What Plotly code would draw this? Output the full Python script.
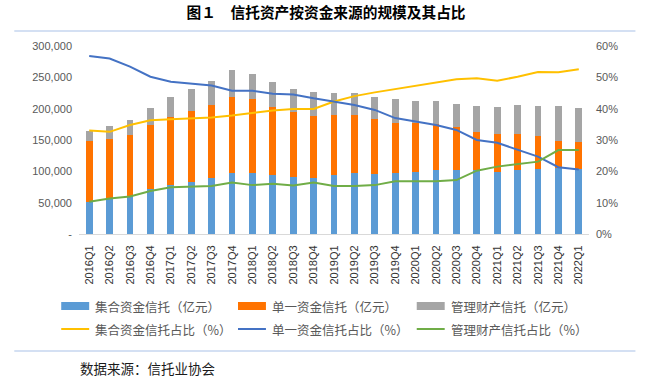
import plotly.graph_objects as go

quarters = ["2016Q1", "2016Q2", "2016Q3", "2016Q4", "2017Q1", "2017Q2", "2017Q3", "2017Q4",
            "2018Q1", "2018Q2", "2018Q3", "2018Q4", "2019Q1", "2019Q2", "2019Q3", "2019Q4",
            "2020Q1", "2020Q2", "2020Q3", "2020Q4", "2021Q1", "2021Q2", "2021Q3", "2021Q4",
            "2022Q1"]

# 亿元
collective = [51600, 56900, 60600, 71800, 78200, 83500, 89900, 97300,
              97300, 93600, 91000, 89900, 93600, 96800, 96300, 97300,
              98900, 102100, 102100, 101600, 98900, 102100, 104300, 105300,
              104300]
single = [96800, 94700, 97900, 102100, 108000, 112200, 116000, 121800,
          117600, 108500, 103100, 98400, 95800, 92600, 87700, 80400,
          77700, 74000, 68600, 60600, 60100, 56900, 51600, 43600,
          42500]
managed = [16500, 20200, 22900, 27700, 32400, 35200, 37700, 42600,
           40400, 39900, 36800, 37800, 35100, 35100, 34100, 38300,
           36200, 35600, 37300, 42600, 43100, 46300, 47800, 55900,
           53700]

# 占比 (%)
collective_pct = [33.0, 32.6, 34.8, 36.3, 36.6, 36.8, 37.2, 37.8,
                  38.7, 39.4, 39.9, 39.9, 42.3, 44.0, 45.2, 46.3,
                  47.3, 48.4, 49.4, 49.7, 48.9, 50.2, 51.7, 51.6,
                  52.6]
single_pct = [56.8, 56.0, 53.4, 50.2, 48.6, 48.1, 47.4, 45.7,
              45.7, 44.8, 44.5, 43.3, 42.2, 41.2, 39.6, 37.0,
              35.9, 34.8, 33.2, 30.0, 29.1, 27.0, 24.7, 21.3,
              20.6]
managed_pct = [10.3, 11.3, 12.0, 13.7, 14.9, 15.0, 15.3, 16.4,
               15.6, 16.0, 15.5, 16.4, 15.3, 15.3, 15.6, 16.8,
               16.8, 16.8, 17.2, 20.2, 21.5, 22.4, 23.1, 26.8,
               26.8]

left_ticks = [0, 50000, 100000, 150000, 200000, 250000, 300000]
left_ticktext = ["-", "50,000", "100,000", "150,000", "200,000", "250,000", "300,000"]

title_text = "图１\u3000信托资产按资金来源的规模及其占比"
source_text = "数据来源：信托业协会"

bar_names = ["集合资金信托（亿元）", "单一资金信托（亿元）", "管理财产信托（亿元）"]
line_names = ["集合资金信托占比（%）", "单一资金信托占比（%）", "管理财产信托占比（%）"]

C_BLUE = "#5B9BD5"
C_ORANGE = "#FF7300"
C_GRAY = "#A5A5A5"
C_YELLOW = "#FFC000"
C_LBLUE = "#4472C4"
C_GREEN = "#70AD47"

W, H = 651, 380
L, R = 78.8, 589.5
T, B = 46, 234


def px2x(px):
    return (px - L) / (R - L)


def px2y(py):
    return (B - py) / (B - T)


fig = go.Figure()
for name, vals, col in zip(bar_names, [collective, single, managed], [C_BLUE, C_ORANGE, C_GRAY]):
    fig.add_trace(go.Bar(x=quarters, y=vals, name=name, marker=dict(color=col, line=dict(width=0)),
                         showlegend=False))

for name, vals, col in zip(line_names, [collective_pct, single_pct, managed_pct], [C_YELLOW, C_LBLUE, C_GREEN]):
    fig.add_trace(go.Scatter(x=quarters, y=[v / 100 for v in vals], name=name, mode="lines",
                             line=dict(color=col, width=2), yaxis="y2", showlegend=False))

tick_font = dict(family="Liberation Sans, Arial, sans-serif", size=11, color="#595959")

fig.update_layout(
    width=W, height=H,
    paper_bgcolor="white", plot_bgcolor="white",
    margin=dict(l=L, r=W - R, t=T, b=H - B, pad=0),
    barmode="stack", bargap=0.66,
    showlegend=False,
    title=dict(text=title_text, x=326 / W, y=1 - 13 / H, xanchor="center", yanchor="middle",
               font=dict(family="Noto Sans CJK SC", size=14.7, color="#000000", weight="bold")),
    xaxis=dict(type="category", tickangle=-90, showgrid=False, showline=True, linecolor="#D9D9D9",
               linewidth=1, ticks="", ticklabelstandoff=6,
               tickfont=dict(family="Liberation Sans, Arial, sans-serif", size=11, color="#333333")),
    yaxis=dict(range=[0, 300000], tickvals=left_ticks, ticktext=left_ticktext, showgrid=False,
               zeroline=False, showline=False, ticks="", ticklabelstandoff=6, tickfont=tick_font),
    yaxis2=dict(range=[0, 0.6], overlaying="y", side="right", tickformat=".0%", dtick=0.1,
                showgrid=False, zeroline=False, showline=False, ticks="", ticklabelstandoff=6,
                tickfont=tick_font),
)

# separator lines
for py in (31, 351):
    fig.add_shape(type="line", xref="paper", yref="paper", x0=px2x(14), x1=px2x(636),
                  y0=px2y(py), y1=px2y(py), line=dict(color="#C6D6EF", width=1.5))

# manual legend
col_x = [61, 238, 417]
row_y = [306, 329]
leg_font = dict(family="Noto Sans CJK SC", size=12.5, color="#595959")
for i, (name, col) in enumerate(zip(bar_names, [C_BLUE, C_ORANGE, C_GRAY])):
    x0 = col_x[i]
    fig.add_shape(type="rect", xref="paper", yref="paper", x0=px2x(x0), x1=px2x(x0 + 28),
                  y0=px2y(row_y[0] + 4), y1=px2y(row_y[0] - 4), fillcolor=col, line=dict(width=0))
    fig.add_annotation(text=name, xref="paper", yref="paper", x=px2x(x0 + 32), y=px2y(row_y[0]),
                       xanchor="left", yanchor="middle", showarrow=False, font=leg_font)
for i, (name, col) in enumerate(zip(line_names, [C_YELLOW, C_LBLUE, C_GREEN])):
    x0 = col_x[i]
    fig.add_shape(type="line", xref="paper", yref="paper", x0=px2x(x0), x1=px2x(x0 + 28),
                  y0=px2y(row_y[1]), y1=px2y(row_y[1]), line=dict(color=col, width=2))
    fig.add_annotation(text=name, xref="paper", yref="paper", x=px2x(x0 + 32), y=px2y(row_y[1]),
                       xanchor="left", yanchor="middle", showarrow=False, font=leg_font)

fig.add_annotation(text=source_text, xref="paper", yref="paper", x=px2x(78), y=px2y(368),
                   xanchor="left", yanchor="middle", showarrow=False,
                   font=dict(family="Noto Sans CJK SC", size=13.5, color="#1a1a1a"))

fig.write_html("out.html", config={"displayModeBar": False},
               post_script="document.body.style.margin='0';document.body.style.overflow='hidden';")
